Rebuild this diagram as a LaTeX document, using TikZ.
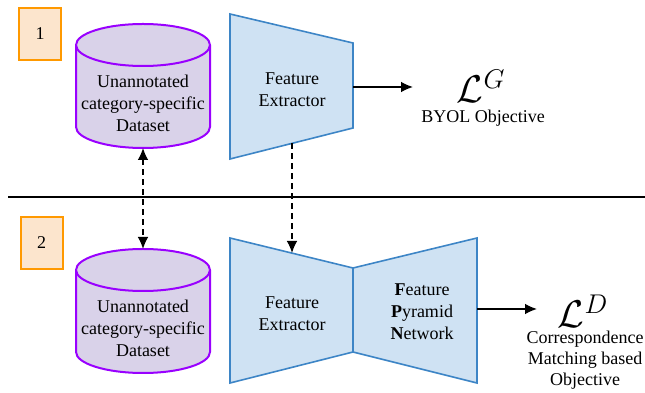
\documentclass[tikz,border=0pt]{standalone}
\usepackage{fix-cm}
\usepackage{fontspec}
\setmainfont{Liberation Serif}
\usetikzlibrary{arrows.meta}
\definecolor{stepfill}{HTML}{FCE5CD}
\definecolor{stepline}{HTML}{FF9900}
\definecolor{datafill}{HTML}{D9D2E9}
\definecolor{dataline}{HTML}{9900FF}
\definecolor{netfill}{HTML}{CFE2F3}
\definecolor{netline}{HTML}{3D85C6}
\begin{document}
\begin{tikzpicture}[x=0.75pt,y=0.75pt,
	font=\fontsize{13.5}{16.5}\selectfont,
	stepnum/.style={draw=stepline,fill=stepfill,line width=1.5pt,minimum width=31.5pt,minimum height=39pt,inner sep=0pt},
	dataset/.style={draw=dataline,fill=datafill,line width=1.5pt},
	net/.style={draw=netline,fill=netfill,line width=1.2pt,line join=miter},
	lbl/.style={align=center,inner sep=0pt},
	loss/.style={inner sep=0pt,font=\fontsize{29}{30}\selectfont},
	flow/.style={line width=1.1pt,-{Latex[length=9pt,width=8pt]}},
	dashflow/.style={flow,dash pattern=on 4.5pt off 3pt}]
\useasboundingbox (0,0) rectangle (645,392);

\node[stepnum] (step1) at (40,358) {1};
\node[stepnum] (step2) at (41.5,149) {2};

\foreach \y/\n in {347/1,122/2}{
	\filldraw[dataset] (76,\y) -- ++(0,-82) arc[start angle=180,end angle=360,x radius=50.25pt,y radius=15.75pt]
		-- ++(0,82) arc[start angle=0,end angle=180,x radius=50.25pt,y radius=15.75pt] -- cycle;
	\draw[dataset] (76,\y) arc[start angle=180,end angle=360,x radius=50.25pt,y radius=15.75pt];
	\node[lbl] (ds\n) at (143,\y-58) {Unannotated\\category-specific\\Dataset};
	\coordinate (dstop\n) at (143,\y+21);
	\coordinate (dsbot\n) at (143,\y-103);
}

\filldraw[net] (230,378) -- (353,349) -- (353,264) -- (230,233) -- cycle;
\node[lbl] (fe1) at (292,302) {Feature\\Extractor};
\coordinate (fe1out) at (353,305);
\coordinate (fe1bot) at (292,248.6);

\filldraw[net] (230,154) -- (353,124) -- (353,40) -- (230,9) -- cycle;
\filldraw[net] (353,124) -- (477,154) -- (477,9) -- (353,40) -- cycle;
\node[lbl] (fe2) at (292,78) {Feature\\Extractor};
\node[lbl] (fpn) at (422,80) {\textbf{F}eature\\\textbf{P}yramid\\\textbf{N}etwork};
\coordinate (fe2top) at (292,139);
\coordinate (fpnout) at (477,83);

\node[loss] (lossG) at (481,306) {$\mathcal{L}^G$};
\node[lbl] (byol) at (483,274) {BYOL Objective};
\node[loss] (lossD) at (583,81) {$\mathcal{L}^D$};
\node[lbl,font=\fontsize{13.5}{15.75}\selectfont] (corr) at (585,32) {Correspondence\\Matching based\\Objective};

\coordinate (sepL) at (8,195);
\coordinate (sepR) at (645,195);
\draw[line width=1.5pt] (sepL) -- (sepR);

\draw[flow] (fe1out) -- ++(60,0);
\draw[flow] (fpnout) -- ++(60,0);
\draw[dashflow,{Latex[length=9pt,width=8pt]}-{Latex[length=9pt,width=8pt]}] (dsbot1) -- (dstop2);
\draw[dashflow] (fe1bot) -- (fe2top);
\end{tikzpicture}
\end{document}
